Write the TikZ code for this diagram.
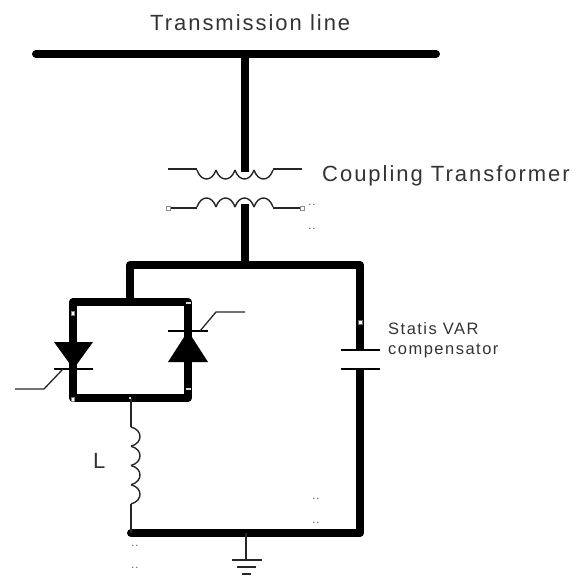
\documentclass[tikz,border=0pt]{standalone}
\usepackage{fontspec}
\setmainfont{Liberation Sans}[LetterSpace=9]
\tikzset{
  bus/.style={line width=8pt,line cap=round,line join=round},
  wire/.style={line width=1.3pt,black!85},
  coil/.style={line width=1.4pt,black!85},
  plate/.style={line width=2.4pt},
  label/.style={inner sep=0pt,anchor=west,text=black!80},
  marker/.style={draw=black!50,fill=white,line width=.5pt,minimum width=#1,inner sep=0pt,minimum height=4pt},
  dots/.style={inner sep=0pt,font=\fontsize{11}{11}\selectfont,text=black!70}
}
\begin{document}
\begin{tikzpicture}[x=1pt,y=-1pt]
\useasboundingbox (0,0) rectangle (581,576);
% named points
\coordinate (busL) at (36,54);
\coordinate (busR) at (436,54);
\coordinate (busT) at (245,54);
\coordinate (xfU) at (245,172);
\coordinate (xfL) at (245,204);
\coordinate (midJ) at (245,265);
\coordinate (midL) at (130,265);
\coordinate (midR) at (360,265);
\coordinate (scrT) at (130,302);
\coordinate (capA) at (360,350);
\coordinate (capB) at (360,369);
\coordinate (botR) at (360,533);
\coordinate (botL) at (131,533);
\coordinate (gnd) at (246,533);
\coordinate (gndP) at (246,560);
\coordinate (boxTL) at (73,302);
\coordinate (boxTR) at (188,302);
\coordinate (boxBL) at (73,398);
\coordinate (boxBR) at (188,398);
\coordinate (boxB) at (131,398);
\coordinate (lTop) at (131,427);
\coordinate (lBot) at (131,504);
\coordinate (dL) at (73,369);
\coordinate (dR) at (188,331);
% heavy conductors
\draw[bus] (busL) -- (busR);
\draw[line width=8pt] (busT) -- (xfU);
\draw[line width=8pt] (xfL) -- (midJ);
\draw[bus] (midL) -- (midR);
\draw[line width=8pt,line join=round] (midR) -- (capA);
\draw[line width=8pt] (capB) -- (botR);
\draw[line width=8pt] (midL) -- (scrT);
\draw[bus] (dL) -- (boxBL) -- (boxBR) -- (dR);
\draw[bus] (dL) -- (boxTL) -- (boxTR) -- (dR);
\draw[bus] (botL) -- (botR);
% transformer
\draw[wire] (168,169) -- (197,169);
\draw[wire] (273,169) -- (302,169);
\draw[wire] (168,208) -- (197,208);
\draw[wire] (273,208) -- (302,208);
\foreach \i in {0,1,2,3}{
  \draw[coil] ({197+19*\i},170) .. controls ({201+19*\i},182) and ({212+19*\i},182) .. ({216+19*\i},170);
  \draw[coil] ({197+19*\i},207) .. controls ({201+19*\i},195) and ({212+19*\i},195) .. ({216+19*\i},207);
}
\node[draw=black!45,fill=white,line width=.5pt,minimum size=3.5pt,inner sep=0pt] (m1) at (168,208) {};
\node[draw=black!45,fill=white,line width=.5pt,minimum size=3.5pt,inner sep=0pt] (m2) at (302,208) {};
% capacitor
\draw[plate] (341,350) -- (380,350);
\draw[plate] (341,369) -- (380,369);
% left thyristor
\fill (54,342) -- (93,342) -- (73.5,369) -- cycle;
\draw[plate] (54,369) -- (93,369);
\coordinate (gLa) at (63,369);
\coordinate (gLb) at (44,389);
\coordinate (gLc) at (15,389);
\draw[wire] (gLa) -- (gLb) -- (gLc);
% right thyristor
\fill (168,362) -- (208,362) -- (188,331) -- cycle;
\draw[plate] (168,331) -- (208,331);
\coordinate (gRa) at (200,331);
\coordinate (gRb) at (216,312);
\coordinate (gRc) at (245,312);
\draw[wire] (gRa) -- (gRb) -- (gRc);
% inductor
\draw[wire] (boxB) -- (lTop);
\draw[wire] (lBot) -- (botL);
\foreach \i in {0,1,2,3}{
  \draw[coil] (131,{427+19.25*\i}) .. controls ({143},{430+19.25*\i}) and ({143},{443+19.25*\i}) .. (131,{446.25+19.25*\i});
}
% ground
\draw[wire] (gnd) -- (gndP);
\draw[wire] (232,560) -- (262,560);
\draw[wire] (237,567) -- (256,567);
\draw[wire] (242,574) -- (251,574);
% small markers
\node[marker=3pt] (s1) at (73,313) {};
\node[marker=3pt] (s2) at (73,399) {};
\node[draw=none,fill=white!85!black,minimum width=5pt,minimum height=2pt,inner sep=0pt] (s3) at (188,303) {};
\node[draw=none,fill=white!85!black,minimum width=5pt,minimum height=1.5pt,inner sep=0pt] (s4) at (188,389) {};
\node[fill=white!85!black,minimum size=2.5pt,inner sep=0pt] (s5) at (130,398) {};
\node[draw=black!60,fill=white,line width=.5pt,minimum size=4pt,inner sep=0pt] (s6) at (360,322) {};
% labels
\node[label,font=\fontsize{22}{22}\selectfont] (t1) at (150,23) {Transmission line};
\node[label,font=\fontsize{22}{22}\selectfont] (t2) at (322,176) {Coupling Transformer};
\node[label,font=\fontsize{16.5}{16.5}\selectfont] (t3) at (388,329) {Statis VAR};
\node[label,font=\fontsize{16.5}{16.5}\selectfont] (t4) at (388,351) {compensator};
\node[label,font=\fontsize{22}{22}\selectfont] (t5) at (93,461) {L};
% stray dots
\foreach \x/\y in {312/205,312/229,316/499,316/523,135/546,135/568}{
  \node[dots] at (\x,\y) {..};
}
\end{tikzpicture}
\end{document}
